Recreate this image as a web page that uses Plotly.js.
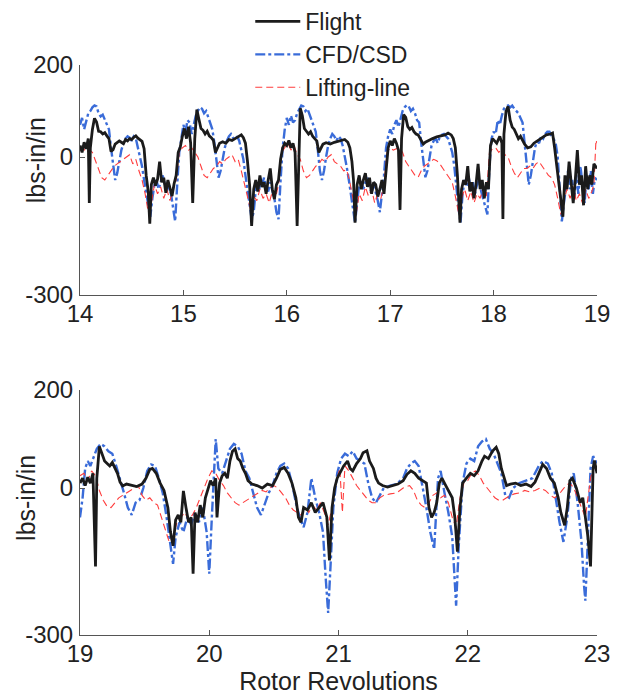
<!DOCTYPE html>
<html>
<head>
<meta charset="utf-8">
<script src="https://cdn.plot.ly/plotly-3.0.1.min.js"></script>
<style>
  html, body { margin: 0; padding: 0; background: #ffffff; }
  #chart { width: 621px; height: 695px; }
</style>
</head>
<body>
<div id="chart"></div>
<script>
// ---------- Data ----------
const seriesNames = ["Flight", "CFD/CSD", "Lifting-line"];
const yTickVals = [-300, 0, 200];
const yTickText = ["-300", "0", "200"];
const topTickVals = [14, 15, 16, 17, 18, 19];
const bottomTickVals = [19, 20, 21, 22, 23];

// Top panel (revolutions 14-19)
const topFlightX = [14.00,14.02,14.04,14.06,14.08,14.09,14.10,14.12,14.14,14.16,14.18,14.20,14.22,14.24,14.26,14.28,14.30,14.32,14.34,14.36,14.38,14.40,14.42,14.44,14.46,14.48,14.50,14.52,14.54,14.56,14.58,14.60,14.62,14.64,14.66,14.675,14.69,14.71,14.73,14.75,14.77,14.79,14.81,14.83,14.85,14.87,14.89,14.91,14.93,14.95,14.97,14.99,
15.01,15.03,15.05,15.07,15.09,15.11,15.13,15.15,15.17,15.19,15.21,15.23,15.25,15.27,15.29,15.31,15.33,15.35,15.38,15.41,15.44,15.47,15.50,15.53,15.56,15.58,15.60,15.62,15.64,15.66,15.68,15.70,15.72,15.74,15.76,15.78,15.80,15.82,15.84,15.86,15.88,15.90,15.92,15.94,15.96,15.98,
16.00,16.02,16.04,16.06,16.08,16.10,16.12,16.13,16.15,16.17,16.19,16.21,16.23,16.25,16.27,16.29,16.31,16.33,16.35,16.38,16.42,16.46,16.50,16.53,16.56,16.59,16.61,16.63,16.645,16.66,16.68,16.70,16.72,16.74,16.76,16.78,16.80,16.82,16.84,16.86,16.88,16.90,16.92,16.94,16.96,16.98,
17.00,17.02,17.04,17.06,17.08,17.095,17.11,17.13,17.15,17.17,17.19,17.21,17.23,17.25,17.27,17.29,17.32,17.34,17.37,17.41,17.45,17.49,17.53,17.56,17.59,17.61,17.63,17.65,17.675,17.69,17.71,17.73,17.75,17.77,17.79,17.81,17.83,17.85,17.87,17.89,17.91,17.93,17.95,17.97,17.99,
18.01,18.03,18.06,18.08,18.09,18.10,18.12,18.14,18.16,18.18,18.20,18.22,18.24,18.26,18.28,18.30,18.33,18.36,18.39,18.43,18.47,18.51,18.55,18.57,18.59,18.61,18.63,18.65,18.67,18.69,18.71,18.73,18.75,18.77,18.79,18.81,18.83,18.85,18.87,18.89,18.91,18.93,18.95,18.97,19.00];
const topFlightY = [25,10,32,18,40,-100,20,60,84,76,56,55,50,53,46,40,12,16,28,31,35,32,29,38,35,40,38,43,46,41,38,34,18,-40,-75,-145,-60,-45,-62,-48,-10,-55,-45,-78,-50,-66,-85,-58,-40,10,22,45,
62,40,66,30,-100,40,103,82,62,58,50,56,46,42,36,10,20,30,33,30,38,36,40,44,48,42,30,-10,-60,-150,-70,-50,-75,-40,-65,-55,-80,-50,-25,-70,-92,-60,-50,-5,20,30,
25,36,20,30,10,-150,60,106,90,62,56,50,55,45,40,35,10,20,28,31,28,32,34,36,38,32,20,-10,-50,-143,-60,-40,-70,-50,-35,-65,-45,-80,-55,-60,-86,-70,-50,-80,-30,20,
35,25,40,30,15,-115,40,92,86,66,60,64,55,50,48,40,28,32,36,40,44,46,48,52,48,40,20,-40,-143,-70,-50,-60,-20,-75,-55,-90,-60,-15,-70,-50,-90,-55,-70,25,40,
35,30,45,30,-135,50,99,110,80,65,60,50,40,45,35,28,20,22,30,36,42,48,50,52,20,-20,-50,-100,-130,-40,-70,-10,-60,-100,-50,15,-60,-40,-105,-20,-70,-40,-60,-15,-25];

const topCfdX = [14.00,14.02,14.04,14.06,14.08,14.10,14.12,14.14,14.16,14.18,14.20,14.22,14.24,14.26,14.28,14.30,14.32,14.34,14.36,14.38,14.40,14.42,14.44,14.46,14.48,14.50,14.52,14.54,14.56,14.58,14.60,14.62,14.64,14.66,14.68,14.70,14.72,14.74,14.76,14.78,14.80,14.82,14.84,14.86,14.88,14.90,14.92,14.94,14.96,14.98,
15.00,15.02,15.04,15.06,15.08,15.10,15.12,15.14,15.16,15.18,15.20,15.22,15.24,15.26,15.28,15.30,15.32,15.34,15.36,15.38,15.40,15.42,15.44,15.46,15.48,15.50,15.52,15.54,15.56,15.58,15.60,15.62,15.64,15.66,15.68,15.70,15.72,15.74,15.76,15.78,15.80,15.82,15.84,15.86,15.88,15.90,15.92,15.94,15.96,15.98,
16.00,16.02,16.04,16.06,16.08,16.10,16.12,16.14,16.16,16.18,16.20,16.22,16.24,16.26,16.28,16.30,16.32,16.34,16.36,16.38,16.40,16.42,16.44,16.46,16.48,16.50,16.52,16.54,16.56,16.58,16.60,16.62,16.64,16.66,16.68,16.70,16.72,16.74,16.76,16.78,16.80,16.82,16.84,16.86,16.88,16.90,16.92,16.94,16.96,16.98,
17.00,17.02,17.04,17.06,17.08,17.10,17.12,17.14,17.16,17.18,17.20,17.22,17.24,17.26,17.28,17.30,17.32,17.34,17.36,17.38,17.40,17.42,17.44,17.46,17.48,17.50,17.52,17.54,17.56,17.58,17.60,17.62,17.64,17.66,17.68,17.70,17.72,17.74,17.76,17.78,17.80,17.82,17.84,17.86,17.88,17.90,17.92,17.94,17.96,17.98,
18.00,18.02,18.04,18.06,18.08,18.10,18.12,18.14,18.16,18.18,18.20,18.22,18.24,18.26,18.28,18.30,18.32,18.34,18.36,18.38,18.40,18.42,18.44,18.46,18.48,18.50,18.52,18.54,18.56,18.58,18.60,18.62,18.64,18.66,18.68,18.70,18.72,18.74,18.76,18.78,18.80,18.82,18.84,18.86,18.88,18.90,18.92,18.94,18.96,18.98,19.00];
const topCfdY = [70,85,60,75,95,100,108,112,110,95,88,92,80,70,60,20,-20,-50,-35,-10,15,30,40,45,42,35,45,40,20,5,-20,-50,-80,-105,-130,-90,-60,-50,-70,-55,-40,-60,-75,-60,-80,-110,-140,-60,10,40,
70,55,80,75,50,70,90,100,108,105,95,100,85,70,60,30,-15,-45,-30,0,20,35,45,50,42,38,45,35,15,-5,-40,-70,-100,-135,-120,-70,-55,-70,-60,-45,-65,-75,-55,-70,-90,-120,-135,-50,20,60,
85,70,90,75,80,95,105,112,110,100,105,92,80,70,55,15,-30,-50,-30,0,25,40,50,45,35,45,40,25,5,-22,-50,-80,-110,-143,-100,-60,-50,-70,-55,-45,-65,-78,-60,-75,-95,-120,-80,-40,20,45,
60,50,70,80,65,85,100,108,113,110,100,105,95,80,75,30,-10,-44,-30,0,25,35,40,30,45,48,50,45,40,25,10,-20,-75,-110,-143,-80,-50,-65,-45,-70,-55,-80,-60,-50,-75,-90,-110,-125,-20,40,
55,50,80,70,90,105,110,112,108,112,105,100,95,85,75,30,-20,-60,-40,-10,20,35,30,45,40,50,55,55,45,40,30,0,-60,-140,-100,-60,-30,-70,-50,-90,-40,-80,-20,-60,-100,-40,-70,-30,-80,-45,-50];

const topLiftX = [14.00,14.03,14.06,14.09,14.12,14.15,14.18,14.21,14.24,14.27,14.30,14.33,14.36,14.39,14.42,14.45,14.48,14.51,14.54,14.57,14.60,14.63,14.66,14.69,14.72,14.75,14.78,14.81,14.84,14.87,14.90,14.93,14.96,14.99,
15.02,15.05,15.08,15.11,15.14,15.17,15.20,15.23,15.26,15.29,15.32,15.35,15.38,15.41,15.44,15.47,15.50,15.53,15.56,15.59,15.62,15.65,15.68,15.71,15.74,15.77,15.80,15.83,15.86,15.89,15.92,15.95,15.98,
16.01,16.04,16.07,16.10,16.13,16.16,16.19,16.22,16.25,16.28,16.31,16.34,16.37,16.40,16.43,16.46,16.49,16.52,16.55,16.58,16.61,16.64,16.67,16.70,16.73,16.76,16.79,16.82,16.85,16.88,16.91,16.94,16.97,
17.00,17.03,17.06,17.09,17.12,17.15,17.18,17.21,17.24,17.27,17.30,17.33,17.36,17.39,17.42,17.45,17.48,17.51,17.54,17.57,17.60,17.63,17.66,17.69,17.72,17.75,17.78,17.81,17.84,17.87,17.90,17.93,17.96,17.99,
18.02,18.05,18.08,18.11,18.14,18.17,18.20,18.23,18.26,18.29,18.32,18.35,18.38,18.41,18.44,18.47,18.50,18.53,18.56,18.59,18.62,18.65,18.68,18.71,18.74,18.77,18.80,18.83,18.86,18.89,18.92,18.95,18.97,18.99,19.00];
const topLiftY = [15,20,10,15,10,-10,-30,-45,-50,-40,-30,-20,-15,-10,-5,0,5,-15,-5,-30,-50,-80,-120,-100,-60,-80,-65,-90,-70,-95,-75,-50,10,20,
25,15,20,10,0,-20,-40,-45,-35,-25,-20,-10,-15,-5,0,5,-10,-5,-30,-60,-90,-115,-85,-95,-70,-90,-80,-100,-75,-90,-60,10,20,
30,15,25,5,-5,-30,-45,-40,-30,-20,-15,-5,-10,0,5,-10,-15,-20,-30,-28,-55,-90,-125,-80,-95,-65,-85,-70,-100,-80,-90,-60,10,
20,15,18,20,10,-10,-20,-30,-40,-44,-30,-20,-15,-10,-5,-8,-15,-25,-35,-45,-55,-85,-120,-90,-70,-95,-75,-100,-80,-90,-65,-85,10,18,
20,10,18,5,0,-20,-35,-45,-35,-25,-25,-20,-25,-15,-10,-20,-30,-40,-45,-60,-90,-125,-95,-70,-90,-65,-95,-80,-100,-70,-90,-75,-60,37,30];

// Bottom panel (revolutions 19-23)
const botFlightX = [19.00,19.02,19.04,19.06,19.08,19.10,19.12,19.13,19.15,19.17,19.19,19.21,19.23,19.25,19.27,19.29,19.31,19.33,19.36,19.40,19.44,19.48,19.51,19.54,19.56,19.59,19.62,19.65,19.68,19.70,19.72,19.74,19.76,19.78,19.80,19.82,19.84,19.86,19.875,19.89,19.91,19.93,19.95,19.97,19.99,
20.01,20.03,20.05,20.06,20.08,20.10,20.12,20.14,20.16,20.18,20.20,20.22,20.24,20.26,20.28,20.30,20.33,20.37,20.41,20.45,20.49,20.52,20.55,20.58,20.61,20.64,20.67,20.69,20.71,20.73,20.76,20.79,20.82,20.85,20.88,20.91,20.93,20.95,20.97,20.99,
21.01,21.04,21.07,21.09,21.11,21.14,21.17,21.19,21.22,21.24,21.27,21.29,21.31,21.34,21.38,21.42,21.46,21.50,21.53,21.56,21.59,21.62,21.65,21.68,21.70,21.72,21.74,21.76,21.78,21.80,21.83,21.86,21.88,21.90,21.92,21.94,21.96,21.99,
22.02,22.05,22.08,22.11,22.13,22.16,22.19,22.22,22.24,22.26,22.28,22.30,22.33,22.37,22.41,22.45,22.49,22.52,22.55,22.58,22.61,22.64,22.67,22.70,22.72,22.75,22.77,22.79,22.81,22.84,22.87,22.89,22.91,22.93,22.95,22.96,22.97,22.98,23.00];
const botFlightY = [10,20,5,22,10,30,-160,20,85,70,55,50,45,52,40,30,12,4,8,5,3,8,20,38,40,30,10,-5,-40,-90,-118,-65,-55,-70,-6,-40,-70,-60,-175,-50,-70,-35,-60,-20,0,
15,5,20,-60,10,25,30,20,55,75,80,60,55,40,30,15,8,5,0,8,5,20,38,42,30,10,-20,-60,-70,-40,-45,-30,-50,-40,-30,-60,-148,-40,0,20,
30,45,55,40,35,50,60,72,76,55,40,20,10,5,2,5,8,15,28,35,30,20,15,10,-40,-60,-50,-30,10,20,5,-10,-20,-60,-130,-40,10,20,
30,25,35,55,65,60,75,83,70,40,20,5,8,10,5,8,3,12,30,48,40,20,10,-20,-50,-76,-40,15,20,0,-30,-20,-60,-100,-160,-60,40,56,30];

const botCfdX = [19.00,19.02,19.04,19.06,19.08,19.10,19.13,19.16,19.19,19.22,19.25,19.28,19.31,19.34,19.37,19.40,19.43,19.46,19.49,19.52,19.55,19.58,19.61,19.64,19.67,19.70,19.72,19.74,19.77,19.80,19.83,19.86,19.89,19.92,19.95,19.98,
20.00,20.02,20.04,20.05,20.07,20.10,20.13,20.16,20.19,20.22,20.25,20.28,20.31,20.34,20.37,20.40,20.43,20.46,20.49,20.52,20.55,20.58,20.61,20.64,20.67,20.70,20.73,20.76,20.79,20.82,20.85,20.88,20.90,20.92,20.94,20.96,20.99,
21.02,21.05,21.08,21.11,21.14,21.17,21.20,21.23,21.26,21.29,21.32,21.35,21.40,21.45,21.50,21.53,21.56,21.59,21.62,21.65,21.68,21.71,21.74,21.77,21.79,21.82,21.85,21.88,21.90,21.91,21.93,21.96,21.99,
22.02,22.05,22.08,22.11,22.14,22.17,22.20,22.23,22.26,22.29,22.32,22.35,22.40,22.45,22.50,22.55,22.58,22.62,22.65,22.68,22.71,22.74,22.77,22.80,22.82,22.85,22.88,22.90,22.91,22.93,22.95,22.97,23.00];
const botCfdY = [-60,-20,40,55,45,60,80,90,85,75,70,45,20,-10,-40,-55,-30,-25,0,35,48,45,20,-10,-60,-120,-155,-100,-70,-90,-60,-75,-50,-70,-40,-90,
-175,-60,60,100,40,30,55,80,90,85,70,35,20,-10,-40,-55,-30,-10,5,30,45,50,40,10,-30,-60,-80,-50,20,-20,-50,-90,-180,-255,-150,-40,30,
60,70,65,75,60,55,50,10,-20,-30,-15,0,5,8,20,40,50,55,45,5,-40,-90,-125,20,35,-10,-50,-100,-180,-240,-120,10,50,
60,55,85,95,100,80,70,50,30,-15,-20,0,10,15,20,45,55,50,30,-20,-70,-110,-60,20,30,-30,-110,-200,-230,-100,40,65,50];

const botLiftX = [19.00,19.03,19.06,19.09,19.12,19.15,19.18,19.21,19.24,19.27,19.30,19.33,19.36,19.39,19.42,19.45,19.48,19.51,19.54,19.57,19.60,19.63,19.66,19.69,19.72,19.75,19.78,19.81,19.84,19.87,19.90,19.93,19.96,19.99,
20.02,20.05,20.08,20.11,20.14,20.17,20.20,20.23,20.26,20.29,20.32,20.35,20.38,20.41,20.44,20.47,20.50,20.53,20.56,20.59,20.62,20.65,20.68,20.71,20.74,20.77,20.80,20.83,20.86,20.89,20.92,20.95,20.98,
21.01,21.03,21.05,21.08,21.11,21.14,21.17,21.20,21.23,21.26,21.29,21.32,21.35,21.40,21.45,21.50,21.55,21.58,21.61,21.64,21.67,21.70,21.73,21.76,21.79,21.82,21.85,21.88,21.91,21.94,21.97,
22.00,22.03,22.06,22.09,22.12,22.15,22.18,22.21,22.24,22.27,22.30,22.33,22.36,22.40,22.44,22.48,22.52,22.56,22.60,22.64,22.67,22.70,22.73,22.76,22.79,22.82,22.85,22.88,22.91,22.93,22.95,22.97,23.00];
const botLiftY = [25,30,15,35,25,-5,-25,-38,-40,-30,-20,-15,-10,-5,0,5,-15,-25,-20,-30,-35,-60,-90,-110,-100,-70,-60,-50,-65,-55,-40,-20,0,20,
35,30,15,5,-10,-20,-30,-35,-30,-25,-20,-15,-10,-5,-8,0,5,0,-10,-20,-35,-45,-50,-55,-40,-50,-35,-45,-30,-50,-75,-40,10,
40,-50,45,35,20,5,-5,-15,-25,-30,-30,-20,-15,-12,-10,0,5,-5,-25,-35,-40,-30,-15,-10,-20,-15,-30,-60,-80,-20,10,
15,30,35,25,10,0,-10,-20,-25,-25,-20,-15,-12,-10,-5,-8,-5,0,-5,-15,-20,-15,-5,5,10,0,-20,-40,-60,-20,20,40,55];

// ---------- Styles ----------
const FONT = "Liberation Sans, Arial, Helvetica, sans-serif";
const TXT = "#222222";
const styles = [
  { color: "#1b1b1b", width: 2.8, dash: "solid" },
  { color: "#3a6cd9", width: 2.4, dash: "10px,3px,3px,3px" },
  { color: "#ff3c3c", width: 1.1, dash: "7px,4px" }
];

function mk(x, y, i, xa, ya, showLegend) {
  return {
    type: "scatter", mode: "lines", x: x, y: y,
    name: seriesNames[i], legendrank: i + 1, showlegend: showLegend,
    xaxis: xa, yaxis: ya, hoverinfo: "skip",
    line: { color: styles[i].color, width: styles[i].width, dash: styles[i].dash }
  };
}

// drawing order: CFD/CSD, Lifting-line, then Flight on top
const traces = [
  mk(topCfdX, topCfdY, 1, "x", "y", true),
  mk(topLiftX, topLiftY, 2, "x", "y", true),
  mk(topFlightX, topFlightY, 0, "x", "y", true),
  mk(botCfdX, botCfdY, 1, "x2", "y2", false),
  mk(botLiftX, botLiftY, 2, "x2", "y2", false),
  mk(botFlightX, botFlightY, 0, "x2", "y2", false)
];

const axisCommon = {
  showline: true, linecolor: "#555555", linewidth: 1, mirror: false,
  showgrid: false, zeroline: false,
  ticks: "inside", ticklen: 5, tickwidth: 1, tickcolor: "#555555",
  tickfont: { family: FONT, size: 24, color: TXT }
};

const layout = {
  width: 621, height: 695,
  paper_bgcolor: "#ffffff", plot_bgcolor: "#ffffff",
  margin: { l: 80, r: 24, t: 65, b: 60, pad: 0, autoexpand: false },
  showlegend: true,
  legend: {
    xref: "container", yref: "container",
    x: 0.403, xanchor: "left", y: 1.0, yanchor: "top",
    bgcolor: "rgba(0,0,0,0)", borderwidth: 0,
    font: { family: FONT, size: 23, color: TXT },
    traceorder: "normal", itemwidth: 45
  },
  xaxis: Object.assign({}, axisCommon, {
    domain: [0, 1], range: [14, 19], tickvals: topTickVals, anchor: "y", ticklabelstandoff: -3
  }),
  yaxis: Object.assign({}, axisCommon, {
    domain: [0.5965, 1], range: [-300, 200], tickvals: yTickVals, ticktext: yTickText, anchor: "x", ticklabelstandoff: 1
  }),
  xaxis2: Object.assign({}, axisCommon, {
    domain: [0, 1], range: [19, 23], tickvals: bottomTickVals, anchor: "y2", ticklabelstandoff: -3,
    title: { text: "Rotor Revolutions", font: { family: FONT, size: 25, color: TXT }, standoff: 5 }
  }),
  yaxis2: Object.assign({}, axisCommon, {
    domain: [0, 0.4298], range: [-300, 200], tickvals: yTickVals, ticktext: yTickText, anchor: "x2", ticklabelstandoff: 1
  }),
  annotations: [
    { text: "lbs-in/in", xref: "paper", yref: "paper", x: -0.085, y: 0.833,
      xanchor: "center", yanchor: "middle", textangle: -90, showarrow: false,
      font: { family: FONT, size: 25, color: TXT } },
    { text: "lbs-in/in", xref: "paper", yref: "paper", x: -0.105, y: 0.24,
      xanchor: "center", yanchor: "middle", textangle: -90, showarrow: false,
      font: { family: FONT, size: 25, color: TXT } }
  ]
};

Plotly.newPlot("chart", traces, layout, { staticPlot: true, displayModeBar: false });
</script>
</body>
</html>
